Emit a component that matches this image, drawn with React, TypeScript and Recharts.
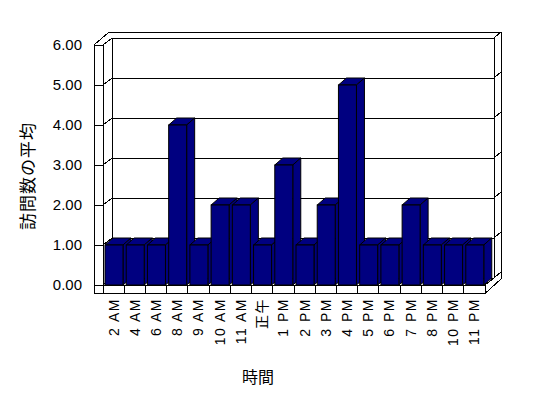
import React from "react"
import { BarChart, Bar, XAxis, YAxis, CartesianGrid, ReferenceArea } from "recharts"

// 時間帯ごとの訪問数の平均
const hours = [
  "2 AM", "4 AM", "6 AM", "8 AM", "9 AM", "10 AM", "11 AM", "正午", "1 PM",
  "2 PM", "3 PM", "4 PM", "5 PM", "6 PM", "7 PM", "8 PM", "10 PM", "11 PM",
]
const avgVisits = [1, 1, 1, 4, 1, 2, 2, 1, 3, 1, 2, 5, 1, 1, 2, 1, 1, 1]
const yTicks = [0, 1, 2, 3, 4, 5, 6]

const data = hours.map((h, i) => ({ hour: h, avg: avgVisits[i] }))

const W = 548
const H = 398
const PLOT_B = 285
const FLOOR = 8.5
const DX = 9
const DY = 7
const NAVY = "#000080"
const FONT = "'Liberation Sans', 'Noto Sans CJK JP', sans-serif"
const CJK = "'Noto Sans CJK JP', sans-serif"

const Walls = (props: any) => {
  const { x, y, width, height } = props
  const xr = x + width
  const yb = y + height
  const d = [
    `M${x - 9},${yb + FLOOR} V${y} L${x + 6},${y - 13} H${xr + 16} V${yb - 6} L${xr},${yb + FLOOR} Z`,
    `M${x},${yb} V${y} H${x - 9}`,
    `M${x},${y} L${x + DX},${y - DY} H${xr + DX} L${xr + 16},${y - 13}`,
    `M${x + DX},${y - DY} V${yb - DY} H${xr + DX}`,
    `M${xr + DX},${y - DY} V${yb - DY} L${xr},${yb}`,
    `M${x},${yb} H${xr} V${yb + FLOOR}`,
  ].join(" ")
  return <path d={d} fill="none" stroke="#000" strokeWidth={1} shapeRendering="crispEdges" />
}

const GridLine3D = (p: any) => {
  const { x1, x2, y1 } = p
  const pts = `${x1 - 9},${y1} ${x1},${y1} ${x1 + DX},${y1 - DY} ${x2 + DX},${y1 - DY} ${x2 + 16},${y1 - 13}`
  return (
    <polyline key={p.key} points={pts} fill="none" stroke="#000" strokeWidth={1} shapeRendering="crispEdges" />
  )
}

const Bar3D = (props: any) => {
  const { x, y, width, height } = props
  if (!height || height <= 0) return null
  const bx = 8
  const by = 7
  return (
    <g stroke="#000" strokeWidth={1} fill={NAVY}>
      <path d={`M${x},${y} L${x + bx},${y - by} H${x + width + bx} L${x + width},${y} Z`} />
      <path d={`M${x + width},${y} L${x + width + bx},${y - by} V${y + height - by} L${x + width},${y + height} Z`} />
      <rect x={x} y={y} width={width} height={height} />
    </g>
  )
}

const HourTick = (props: any) => {
  const { x, payload, index } = props
  const half = payload && payload.offset ? payload.offset : 10.6
  const last = index === hours.length - 1
  return (
    <g>
      <line x1={x - half} x2={x - half} y1={PLOT_B} y2={PLOT_B + FLOOR} stroke="#000" shapeRendering="crispEdges" />
      {last && (
        <line x1={x + half} x2={x + half} y1={PLOT_B} y2={PLOT_B + FLOOR} stroke="#000" shapeRendering="crispEdges" />
      )}
      <text
        x={x}
        y={298}
        transform={`rotate(-90 ${x} 298)`}
        textAnchor="end"
        dy="0.35em"
        fontSize={14}
        letterSpacing={1.5}
        fill="#000"
        fontFamily={FONT}
      >
        {payload.value}
      </text>
    </g>
  )
}

const ValueTick = (props: any) => {
  const { y, payload } = props
  return (
    <text x={82} y={y} dy="0.35em" textAnchor="end" fontSize={15} fill="#000" fontFamily={FONT}>
      {Number(payload.value).toFixed(2)}
    </text>
  )
}

const YTitle = () => (
  <text
    x={28}
    y={176}
    transform="rotate(-90 28 176)"
    textAnchor="middle"
    dy="0.35em"
    fontSize={17}
    letterSpacing={1}
    fill="#000"
    fontFamily={CJK}
  >
    訪問数の平均
  </text>
)

const XTitle = () => (
  <text x={258} y={377} textAnchor="middle" dy="0.35em" fontSize={16} fill="#000" fontFamily={CJK}>
    時間
  </text>
)

export default function App() {
  return (
    <div style={{ position: "absolute", left: 0, top: 0, width: W, height: H, background: "#fff", fontFamily: FONT }}>
      <BarChart width={W} height={H} data={data} margin={{ top: 45, right: 63, bottom: H - PLOT_B - 1, left: 102 }} barSize={18}>
        <CartesianGrid vertical={false} horizontal={(p: any) => <GridLine3D {...p} />} />
        <ReferenceArea y1={0} y2={6} shape={(p: any) => <Walls {...p} />} />
        <XAxis
          dataKey="hour"
          height={1}
          interval={0}
          axisLine={false}
          tickLine={false}
          tick={<HourTick />}
          label={<XTitle />}
        />
        <YAxis
          width={1}
          domain={[0, 6]}
          ticks={yTicks}
          interval={0}
          axisLine={false}
          tickLine={false}
          tick={<ValueTick />}
          label={<YTitle />}
        />
        <Bar dataKey="avg" shape={(p: any) => <Bar3D {...p} />} isAnimationActive={false} />
      </BarChart>
    </div>
  )
}
